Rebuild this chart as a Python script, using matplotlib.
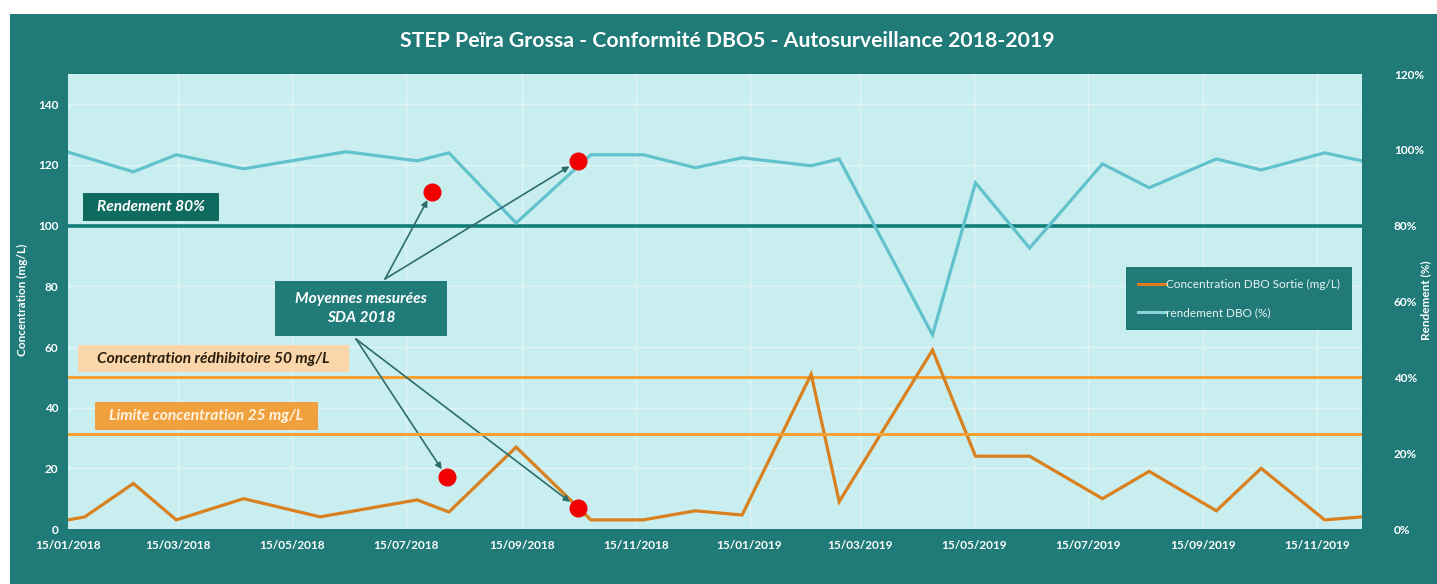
import numpy as np
import pandas as pd
import matplotlib
matplotlib.use("Agg")
import matplotlib.pyplot as plt
from matplotlib.patches import Rectangle
from matplotlib.lines import Line2D

plt.rcParams['font.family'] = ['Lato', 'DejaVu Sans']

# --- data ---
conc_dates = ['2018-01-15', '2018-01-24', '2018-02-19', '2018-03-14', '2018-04-19', '2018-05-30',
              '2018-07-21', '2018-08-07', '2018-09-12', '2018-10-22', '2018-11-19', '2018-12-17',
              '2019-01-11', '2019-02-17', '2019-03-04', '2019-04-23', '2019-05-16', '2019-06-14',
              '2019-07-23', '2019-08-17', '2019-09-22', '2019-10-16', '2019-11-19', '2019-12-09']
conc_values = [3, 4, 15, 3, 10, 4,
               9.6, 5.6, 27, 3, 3, 6,
               4.6, 51, 9, 59, 24, 24,
               10, 19, 6, 20, 3, 4]

rend_dates = ['2018-01-15', '2018-02-19', '2018-03-14', '2018-04-19', '2018-06-13', '2018-07-21',
              '2018-08-07', '2018-09-12', '2018-10-22', '2018-11-19', '2018-12-17', '2019-01-11',
              '2019-02-17', '2019-03-04', '2019-04-23', '2019-05-16', '2019-06-14', '2019-07-23',
              '2019-08-17', '2019-09-22', '2019-10-16', '2019-11-19', '2019-12-09']
rend_values = [99.4, 94.2, 98.7, 95.0, 99.5, 97.1,
               99.2, 80.7, 98.7, 98.7, 95.3, 97.9,
               95.8, 97.6, 51.2, 91.3, 74.1, 96.3,
               90.0, 97.6, 94.7, 99.2, 97.1]

# SDA 2018 measured averages (red dots)
sda_rend_dates = ['2018-07-29', '2018-10-15']
sda_rend_values = [89, 97]
sda_conc_dates = ['2018-08-06', '2018-10-15']
sda_conc_values = [17, 7]

# thresholds
seuil_rendement = 80      # % (right axis)
seuil_redhibitoire = 50   # mg/L (left axis)
seuil_limite = 25         # drawn on the right axis in the original

tick_labels = ['15/01/2018', '15/03/2018', '15/05/2018', '15/07/2018', '15/09/2018', '15/11/2018',
               '15/01/2019', '15/03/2019', '15/05/2019', '15/07/2019', '15/09/2019', '15/11/2019']
left_ticks = [0, 20, 40, 60, 80, 100, 120, 140]
right_ticks = [0, 20, 40, 60, 80, 100, 120]

# --- colours ---
TEAL = '#1F7A78'
PLOT_BG = '#C9EEF0'
ORANGE = '#D9801F'
ORANGE_LINE = '#F5A032'
CYAN = '#62C2CC'
DARK_TEAL = '#0F7D78'

W, H = 1437, 584


def fx(x):
    return x / W


def fy(y):
    return 1 - y / H


fig = plt.figure(figsize=(W / 100, H / 100), dpi=100)
fig.patch.set_facecolor('white')
fig.patches.append(Rectangle((fx(10), 0), 1 - fx(10), fy(14), transform=fig.transFigure,
                             facecolor=TEAL, edgecolor='none', zorder=-10))

ax = fig.add_axes([fx(68), fy(529), fx(1362) - fx(68), fy(74) - fy(529)])
ax.set_facecolor(PLOT_BG)
ax2 = ax.twinx()

cd = pd.to_datetime(conc_dates)
rd = pd.to_datetime(rend_dates)
td = pd.to_datetime(tick_labels, format='%d/%m/%Y')

# gridlines
for v in left_ticks[1:]:
    ax.axhline(v, color='#E2F5F6', lw=1, zorder=0)
for t in td[1:]:
    ax.axvline(t, color='#E2F5F6', lw=1, zorder=0)

# reference lines
ax.axhline(seuil_redhibitoire, color=ORANGE_LINE, lw=2.2, zorder=2)
ax2.axhline(seuil_limite, color=ORANGE_LINE, lw=2.2, zorder=2)
ax2.axhline(seuil_rendement, color=DARK_TEAL, lw=2.6, zorder=2)

# series
l1, = ax.plot(cd, conc_values, color=ORANGE, lw=2.3, zorder=3, solid_joinstyle='miter')
l2, = ax2.plot(rd, rend_values, color=CYAN, lw=2.3, zorder=3, solid_joinstyle='miter')

# red dots
ax2.plot(pd.to_datetime(sda_rend_dates), sda_rend_values, 'o', color='#F00000', ms=12, zorder=6)
ax.plot(pd.to_datetime(sda_conc_dates), sda_conc_values, 'o', color='#F00000', ms=12, zorder=6)

ax.set_xlim(cd[0], cd[-1])
ax.set_ylim(0, 150)
ax2.set_ylim(0, 120)

ax.set_xticks(td)
ax.set_xticklabels(tick_labels)
ax.set_yticks(left_ticks)
ax2.set_yticks(right_ticks)
ax2.set_yticklabels([f'{v}%' for v in right_ticks])

for a in (ax, ax2):
    for s in a.spines.values():
        s.set_visible(False)
ax.tick_params(axis='x', length=0, pad=8, colors='white', labelsize=8.5)
ax.tick_params(axis='y', length=0, pad=7, colors='white', labelsize=8.5)
ax2.tick_params(axis='y', length=0, pad=23, colors='white', labelsize=8.5)
for lab in ax.get_xticklabels() + ax.get_yticklabels() + ax2.get_yticklabels():
    lab.set_fontweight('bold')

fig.text(fx(22), fy(300), 'Concentration (mg/L)', rotation=90, color='white', fontsize=8.5,
         fontweight='bold', ha='center', va='center')
fig.text(fx(1426), fy(300), 'Rendement (%)', rotation=90, color='white', fontsize=8.5,
         fontweight='bold', ha='center', va='center')

fig.text(fx(727), fy(41), 'STEP Peïra Grossa - Conformité DBO5 - Autosurveillance 2018-2019',
         color='white', fontsize=15.3, fontweight='bold', ha='center', va='center')


def box(x0, y0, x1, y1, fc, text, tc, fs=11.2):
    fig.patches.append(Rectangle((fx(x0), fy(y1)), fx(x1) - fx(x0), fy(y0) - fy(y1),
                                 transform=fig.transFigure, facecolor=fc, edgecolor='none', zorder=5))
    fig.text(fx((x0 + x1) / 2), fy((y0 + y1) / 2), text, color=tc, fontsize=fs, fontweight='bold',
             fontstyle='italic', ha='center', va='center', zorder=6, linespacing=1.4)


box(83, 193, 219, 221, '#0F6A5F', 'Rendement 80%', 'white')
box(78, 345, 349, 372, '#FAD6AA', 'Concentration rédhibitoire 50 mg/L', '#2A1E0E')
box(95, 402, 318, 430, '#F1A03E', 'Limite concentration 25 mg/L', '#FFF4E2')
box(275, 281, 447, 336, '#217C79', 'Moyennes mesurées\nSDA 2018', 'white')

# arrows to the red dots
arrow_kw = dict(arrowstyle='-|>', color='#2C6D6C', lw=1.2, mutation_scale=9, shrinkA=0, shrinkB=7)
for d, v in zip(sda_rend_dates, sda_rend_values):
    ax2.annotate('', xy=(pd.Timestamp(d), v), xytext=(fx(385), fy(279)), textcoords='figure fraction',
                 arrowprops=arrow_kw, zorder=5)
for d, v in zip(sda_conc_dates, sda_conc_values):
    ax.annotate('', xy=(pd.Timestamp(d), v), xytext=(fx(356), fy(339)), textcoords='figure fraction',
                arrowprops=arrow_kw, zorder=5)

leg = ax2.legend(handles=[Line2D([], [], color='#E07B20', lw=2.2), Line2D([], [], color='#8AD3DA', lw=2.2)],
                 labels=['Concentration DBO Sortie (mg/L)', 'rendement DBO (%)'],
                 loc='upper left', bbox_to_anchor=(fx(1126), fy(267)), bbox_transform=fig.transFigure,
                 facecolor='#217A78', edgecolor='none', framealpha=1, fancybox=False,
                 labelcolor='#E6F4F4', fontsize=8.5, handlelength=2.4, handletextpad=0.0,
                 borderpad=1.0, labelspacing=1.5, borderaxespad=0)
leg.set_zorder(7)

fig.savefig('out.png', dpi=100, facecolor=fig.get_facecolor())
